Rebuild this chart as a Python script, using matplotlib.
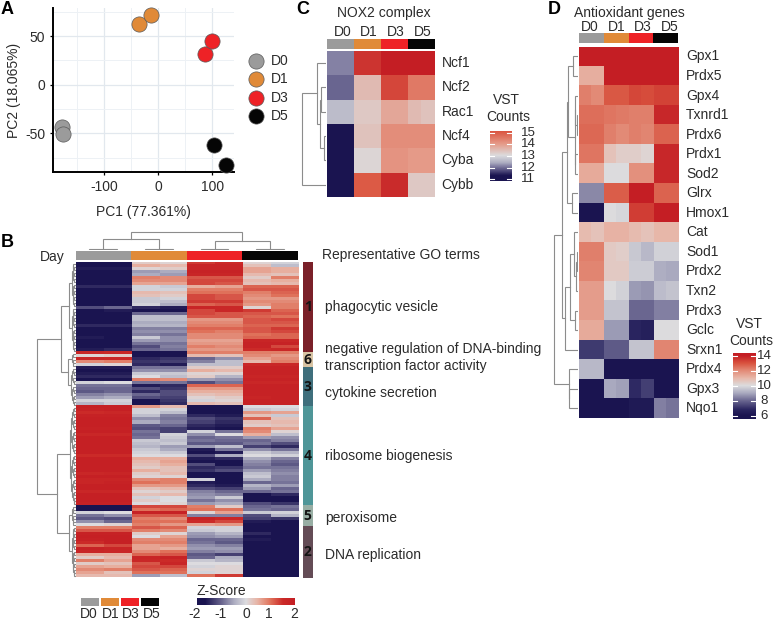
import numpy as np
import matplotlib
matplotlib.use('Agg')
import matplotlib.pyplot as plt
from matplotlib.colors import LinearSegmentedColormap, Normalize

plt.rcParams['font.family'] = ['Liberation Sans', 'DejaVu Sans']
plt.rcParams['font.size'] = 10
plt.rcParams['axes.unicode_minus'] = False

W, H = 773, 620
TEXT = '#2b2b2b'
LINE = '#8c8c8c'

days = ['D0', 'D1', 'D3', 'D5']
day_colors = ['#9b9b9b', '#e08a38', '#ee2226', '#050505']

# Panel A - PCA scores
pc1 = {'D0': [-178, -176], 'D1': [-35, -13], 'D3': [86, 100], 'D5': [103, 125]}
pc2 = {'D0': [-43, -51], 'D1': [63, 72], 'D3': [32, 45], 'D5': [-62, -82]}

# Panel B - z-scores, one list per cluster, 2 replicates per day
cluster1 = [
    [-2, -2, .2, .1, 1.4, 1.5, .1, -.1], [-2, -2, .5, .4, 1.7, 1.7, .3, -.3],
    [-1.6, -1.6, .1, .2, 1.7, 1.7, .6, .5], [-2, -1.8, -.6, -.5, 1.8, 1.8, .6, .5],
    [-2, -1.8, -.5, -.6, 1.7, 1.7, .4, .3], [-2, -2, .9, .8, 1.2, 1.2, .2, .9],
    [-2, -2, .8, .8, 1.3, 1.3, .4, .5], [-2, -2, .6, .6, 1.3, 1.2, .3, .4],
    [-1.5, -1.5, -.1, -.2, .5, .6, 1.1, 1.1], [-2, -2, -.1, -.1, .9, .9, 1.2, 1.2],
    [-2, -2, .4, .3, 1, 1, .9, 1.1], [-2, -2, .3, .2, 1.3, 1.2, .8, 1],
    [-2, -2, -.2, -.1, 1.3, 1.2, .7, .7], [-2, -2, -.2, -.3, 1.4, 1.4, .8, .8],
    [-2, -2, -.1, -.5, 1.1, 1.2, .7, .9], [-1.2, -1.0, -1.5, -1.6, 1.7, 1.6, .1, .9],
    [-1.7, -1.6, -1.8, -1.7, 1.3, 1.6, 1.4, 1.1], [-2, -2, -1, -1, 1.3, 1.2, 1.2, 1.2],
    [-2, -2, -.3, -.3, 1.2, 1.2, 1.1, 1], [-2, -2, -.3, -.3, .7, .7, 1.2, 1.3],
    [-2, -2, -.5, -.5, .8, .8, 1.2, 1.2], [-1.5, -1.5, -.4, -.4, .9, .9, 1.1, 1.1],
    [-2, -2, -.8, -.8, 1.1, 1.1, 1.2, 1.4], [-2, -1.9, -.7, -.7, 1, .9, 1.2, 1.3],
    [-1.9, -2, -.8, -.9, .8, .8, 1, 1.1], [-1.6, -1.7, -.2, -.7, .8, .8, 1.1, 1.1],
    [-1.8, -1.9, -.6, -.7, .6, .6, 1.7, 1.6], [-1.9, -2, -.9, -.9, .7, .7, 1.8, 1.8],
    [-1.9, -1.8, -1.2, -.8, .9, .8, 1.8, 1.3], [-1.6, -1.5, -1, -.9, .7, .7, 1.5, 1.6],
]
cluster6 = [
    [1.7, 1.6, -2, -2, .9, .9, .9, .9], [.1, .2, -2, -2, .4, .3, .8, .7],
    [1.7, 1.6, -1.5, -1.4, -1, -.7, .6, .8], [.8, .9, -1.4, -1.3, -.8, -.3, .4, .9],
    [-.1, .1, -1.5, -1.6, -.3, -.3, 1.6, 1.6],
]
cluster3 = [
    [-1.6, -1.6, -.9, -.9, .2, .2, 1.8, 1.8], [-1.7, -1.7, -.7, -.7, .5, .4, 1.8, 1.8],
    [-1.6, -1.6, -.2, -.2, .1, .1, 1.8, 1.8], [-1.5, -1.5, 0, -.3, .2, -.4, 1.7, 1.7],
    [-1.7, -1.7, .9, .8, -.6, -.7, 1.8, 1.8], [-.1, 0, -.9, -.9, -1.2, -.9, 1.6, 1.6],
    [-.9, -.9, -1.6, -1.5, 1.1, 1.1, 1.8, 1.8], [-1, -1, -1.2, -1.4, .7, .7, 1.8, 1.8],
    [-1.1, -1, -1.5, -1.2, .5, .5, 1.8, 1.8], [-.8, -.7, -1, -1.2, .3, .4, 1.8, 1.8],
    [-.6, -.5, -1.2, -1.3, .1, .2, 1.7, 1.8], [-.1, -.1, -1.7, -1.4, -.1, .1, 1.8, 1.8],
    [-.4, -.2, -1.8, -1.5, .4, .3, 1.8, 1.8],
]
cluster4 = [
    [1.9, 1.9, .7, .4, -2, -2, 0, 0], [1.8, 1.9, -.1, -.1, -1.9, -2, -.2, -.1],
    [1.5, 1.6, -.1, -.3, -1.8, -1.8, .7, .6], [1.8, 1.8, -.3, -.8, -1.5, -1.6, .3, -.2],
    [1.9, 1.9, -.7, -.9, -1.2, -1.4, 1.1, .3], [1.9, 1.9, -.5, -.8, -1.3, -1.5, .3, .4],
    [1.9, 1.9, -1.1, -1, -1.5, -1.6, .2, .3], [1.8, 1.8, -1.2, -1.3, -1.6, -1.7, .9, .6],
    [1.9, 1.9, -.9, -1.3, -.1, -.9, .8, .1], [1.6, 1.6, -1, -.1, -.7, 0, .5, -.3],
    [1.9, 1.9, -.9, -.2, -1, -.9, -.6, -.7], [1.9, 1.9, -.2, -.3, -.9, -1, -1, -.8],
    [1.9, 1.9, -.3, -.2, -1.1, -1.1, -.9, -1.2], [1.9, 1.9, -.4, -.6, -.6, -.3, -1.3, -1.5],
    [1.9, 1.9, -.2, -.5, -1.6, -.9, -.7, -.9], [1.9, 1.9, -.1, -.2, -1.7, -1.6, -.2, -.4],
    [1.5, 1.5, 0, 0, -1.2, -.5, 0, -.1], [1.9, 1.9, .5, .5, -1.6, -1.5, -.5, -.8],
    [1.9, 1.9, .4, .6, -1.7, -1.8, -.7, -1], [1.9, 1.9, .3, .5, -1.2, -1.9, -.8, -1.1],
    [1.9, 1.9, .2, .3, -1.5, -1.4, -.9, -.9], [1.9, 1.9, .5, .3, -1.4, -1.2, -.6, -.8],
    [1.6, 1.7, .2, .4, -1.8, -1.9, -.3, -.7], [1.9, 1.9, .1, .1, -1.7, -1.8, -.2, -.8],
    [1.7, 1.7, .8, .9, -.1, -1.9, -.5, -.8], [1.7, 1.8, 1, .9, -1.6, -1.7, -1, -.9],
    [1.9, 1.9, .7, .7, -1.5, -1.6, -.4, -.6], [1.9, 1.9, .3, .4, -1.2, -1.3, -.6, -1],
    [1.6, 1.6, .1, .2, -.8, -1, -1, -.9], [1.9, 1.9, .3, .4, -.7, -.8, -1.8, -1.5],
    [1.9, 1.9, -.1, 0, -.6, -.2, -1.7, -1.8], [1.9, 1.9, .2, 0, -.9, -.7, -1.7, -1.7],
    [1.8, 1.8, 0, .1, -.6, -.5, -1.2, -1.4],
]
cluster5 = [
    [-2, -1.9, 1.3, 1.3, .9, .2, -1, -.9], [-1.9, -2, 1, 1.1, 1, 1, -.9, -1],
    [-.1, 0, 1.8, 1.8, .1, .6, -.2, -.1], [-.9, -.7, 1.2, 1.2, -.8, -.8, -1.2, -.4],
    [-1.1, -1.2, .9, .8, 1.8, 1.6, -1.3, -1.4], [-.7, -1, 1, 1, 1.5, 1.3, -1.6, -1.7],
    [0, .1, .9, .7, .6, .7, -1.8, -1.9],
]
cluster2 = [
    [.9, .9, 1.2, 1.1, -.1, -.1, -1.9, -1.9], [1.2, 1.2, .9, .8, -.2, -.1, -1.9, -1.8],
    [1.8, 1.8, .2, .1, -.6, -.4, -1.5, -1.8], [1.9, 1.9, 0, .6, -.7, -.6, -1.9, -1.9],
    [1.8, 1.9, .8, .8, -1, -1, -1.6, -1.8], [1.5, 1.9, .9, .9, -.9, -1.1, -1.8, -1.9],
    [1.1, 1.3, .6, .7, -.7, -.8, -1.9, -1.7], [1.8, 1.7, .6, .5, -.6, -.6, -1.9, -1.9],
    [1.7, 1.6, .8, 1, -.8, -.7, -1.8, -1.9], [.5, .5, 1.1, 1.2, -1.1, -1.3, -1.9, -1.9],
    [.2, .4, 1.7, 1.8, -1, -.5, -2, -2], [.9, .6, 1.6, 1.5, -.2, -.4, -2, -1.9],
    [.2, .3, 1.2, 1.7, 0, 0, -2, -2], [.6, .5, 1.3, 1.3, -.1, .1, -2, -2],
    [.8, .9, 1.2, 1.1, .1, .1, -2, -2], [.6, .3, 1, 1, -.1, .1, -2, -2],
    [.4, .4, -.6, -.3, 1, 1.4, -2, -2],
]
cluster_ids = ['1', '6', '3', '4', '5', '2']
cluster_rows = [cluster1, cluster6, cluster3, cluster4, cluster5, cluster2]
cluster_colors = ['#7a2029', '#d8c4a4', '#3f6f7c', '#4f9698', '#98aea4', '#644c56']
go_terms = ['phagocytic vesicle', 'negative regulation of DNA-binding\ntranscription factor activity',
            'cytokine secretion', 'ribosome biogenesis', 'peroxisome', 'DNA replication']

# Panel C - NOX2 complex
nox2_genes = ['Ncf1', 'Ncf2', 'Rac1', 'Ncf4', 'Cyba', 'Cybb']
nox2_vst = [
    [12.1, 12.1, 15.4, 15.4, 15.7, 15.7, 15.7, 15.7],
    [11.9, 11.9, 13.5, 13.5, 15.2, 15.2, 14.5, 14.5],
    [12.6, 12.6, 13.3, 13.3, 13.8, 13.8, 13.5, 13.4],
    [11, 11, 13.4, 13.4, 14.2, 14.2, 14.2, 14.2],
    [11, 11, 13.1, 13.1, 14.1, 14.1, 14.0, 14.0],
    [11, 11, 15.0, 15.0, 15.5, 15.5, 13.3, 13.3],
]
nox2_tree = (24, (9, 0, (6.5, (5, 1, 2), (2.5, 3, 4))), 5)

# Panel D - antioxidant genes
aox_genes = ['Gpx1', 'Prdx5', 'Gpx4', 'Txnrd1', 'Prdx6', 'Prdx1', 'Sod2', 'Glrx', 'Hmox1', 'Cat',
             'Sod1', 'Prdx2', 'Txn2', 'Prdx3', 'Gclc', 'Srxn1', 'Prdx4', 'Gpx3', 'Nqo1']
aox_vst = [
    [14, 14, 14, 14, 14, 14, 14, 14],
    [11.2, 11.2, 14, 14, 14, 14, 14, 14],
    [12.2, 12.0, 12.9, 12.9, 13.2, 13.1, 13.3, 13.3],
    [12.5, 12.5, 12.4, 12.3, 12.2, 12.2, 13.8, 13.8],
    [12.6, 12.6, 12.2, 12.0, 12.2, 12.1, 12.7, 12.7],
    [12.4, 12.4, 10.7, 10.4, 10.4, 10.2, 13.8, 13.8],
    [11.3, 11.3, 10, 10, 11.9, 11.9, 13.8, 13.8],
    [8.5, 8.5, 12.8, 12.8, 14, 14, 12.7, 12.7],
    [6, 6, 10, 9.9, 13.4, 13.4, 14, 14],
    [10.9, 10.7, 11.1, 11.1, 10.9, 10.7, 11, 11],
    [12.2, 12.2, 10.5, 10.4, 9.6, 9.3, 9.8, 9.8],
    [12.1, 12.1, 10.5, 10.5, 9.7, 9.7, 9.1, 9],
    [11.6, 11.6, 10, 9.8, 8.8, 8.7, 9.4, 9.5],
    [11.6, 11.6, 9.5, 9.5, 8, 8, 8.4, 8.4],
    [11.3, 11.3, 8.8, 8.8, 6.8, 6.6, 10, 10],
    [7.2, 7.2, 7.8, 7.8, 9.5, 9.5, 12.1, 12.1],
    [9.3, 9.3, 6, 6, 6, 6, 6, 6],
    [6, 6, 9, 8.9, 6.9, 7.3, 6, 6],
    [6, 6, 6, 6, 6.3, 6.3, 8.4, 8.2],
]
aox_tree = (24,
            (16,
             (11, (10, (4.5, 0, 1), (3, (2.5, 2, (1.2, 3, 4)), (2.5, 5, 6))), (6, 7, 8)),
             (12.5, (8, (4, 9, (2, (1, 10, 11), 12)), (2.5, 13, 14)), 15)),
            (9, 16, (8.5, 17, 18)))

sample_tree = (18, (11, (1.5, 0, 1), (1.5, 2, 3)), (9, (1.5, 4, 5), (1.5, 6, 7)))


def ax_px(x0, y0, x1, y1):
    # axes from pixel box, y measured from the top of the picture
    ax = fig.add_axes([x0 / W, 1 - y1 / H, (x1 - x0) / W, (y1 - y0) / H])
    return ax


def txt(x, y, s, **kw):
    kw.setdefault('color', TEXT)
    kw.setdefault('va', 'center')
    kw.setdefault('fontsize', 10)
    fig.text(x / W, 1 - y / H, s, **kw)


def draw_tree(ax, node, horizontal=True):
    # node is a row index or (height, left, right); returns (position, height)
    if not isinstance(node, tuple):
        return node + 0.5, 0
    h, left, right = node
    p1, h1 = draw_tree(ax, left, horizontal)
    p2, h2 = draw_tree(ax, right, horizontal)
    hs, ps = [h1, h, h, h2], [p1, p1, p2, p2]
    if horizontal:
        ax.plot(hs, ps, color=LINE, lw=0.8, solid_joinstyle='miter')
    else:
        ax.plot(ps, hs, color=LINE, lw=0.8, solid_joinstyle='miter')
    return (p1 + p2) / 2, h


def side_tree(tree, n, x_right, y0, y1):
    top = tree[0] + 1
    ax = ax_px(x_right - top, y0, x_right, y1)
    draw_tree(ax, tree)
    ax.set_xlim(top, 0)
    ax.set_ylim(n, 0)
    ax.axis('off')


def balanced(a, b, h):
    if b - a == 1:
        return a
    m = (a + b) // 2
    return (h, balanced(a, m, h * 0.72), balanced(m, b, h * 0.72))


def day_bar(x0, y0, x1, y1):
    ax = ax_px(x0, y0, x1, y1)
    for i, c in enumerate(day_colors):
        ax.bar(i, 1, width=1, color=c)
    ax.set_xlim(-0.5, 3.5)
    ax.set_ylim(0, 1)
    ax.axis('off')


def heat(data, cmap, norm, x0, y0, x1, y1):
    ax = ax_px(x0, y0, x1, y1)
    ax.imshow(np.array(data), cmap=cmap, norm=norm, aspect='auto', interpolation='nearest')
    ax.axis('off')


def vert_bar(cmap, norm, ticks, lo, hi, x0, y0, x1, y1, label_x):
    ax = ax_px(x0, y0, x1, y1)
    vals = np.linspace(hi, lo, 120).reshape(-1, 1)
    ax.imshow(vals, cmap=cmap, norm=norm, aspect='auto', extent=[0, 1, lo, hi])
    for t in ticks:
        ax.plot([0, 0.2], [t, t], color='white', lw=0.8)
        ax.plot([0.8, 1], [t, t], color='white', lw=0.8)
        y = y1 - (t - lo) / (hi - lo) * (y1 - y0)
        txt(label_x, y, str(t), ha='center', fontsize=9.5)
    ax.set_xlim(0, 1)
    ax.set_ylim(lo, hi)
    ax.axis('off')


fig = plt.figure(figsize=(W / 100, H / 100), dpi=100, facecolor='white')

# ---- A: PCA ----
ax = ax_px(53, 8, 234, 172)
for d, c in zip(days, day_colors):
    ax.scatter(pc1[d], pc2[d], s=120, color=c, edgecolor='#5a5a5a', linewidth=0.5, zorder=3,
               label=d, clip_on=False)
ax.set_xlim(-195, 140)
ax.set_ylim(-89.7, 79)
ax.set_xticks([-100, 0, 100])
ax.set_yticks([-50, 0, 50])
ax.set_xticks([-150, -50, 50], minor=True)
ax.set_yticks([-75, -25, 25, 75], minor=True)
ax.grid(True, which='major', color='#e2e8ee', lw=0.9)
ax.grid(True, which='minor', color='#edf1f5', lw=0.7)
ax.set_axisbelow(True)
ax.tick_params(which='minor', length=0)
ax.tick_params(which='major', length=2.5, width=0.9, labelsize=10, labelcolor=TEXT, pad=3)
for s in ['top', 'right']:
    ax.spines[s].set_visible(False)
for s in ['left', 'bottom']:
    ax.spines[s].set_linewidth(1.4)
ax.set_xlabel('PC1 (77.361%)', fontsize=10, color=TEXT, labelpad=8)
ax.set_ylabel('PC2 (18.065%)', fontsize=10, color=TEXT, labelpad=3)
ax.legend(loc='center left', bbox_to_anchor=(1.005, 0.51), frameon=False, fontsize=10,
          handletextpad=0.1, labelspacing=0.32, borderpad=0, labelcolor=TEXT)

# ---- B: main heatmap ----
z_cmap = LinearSegmentedColormap.from_list('z', [
    (0, '#1a1450'), (0.08, '#1a1450'), (0.25, '#6a668f'), (0.38, '#aeaec2'), (0.5, '#dcdce0'),
    (0.62, '#e8b3a4'), (0.75, '#e0735c'), (0.88, '#cb2a28'), (1, '#c41e24')])
z_norm = Normalize(-2, 2)
z_all = [row for rows in cluster_rows for row in rows]
bx0, bx1, by0, by1 = 75.5, 298, 262, 577.5
heat(z_all, z_cmap, z_norm, bx0, by0, bx1, by1)
day_bar(bx0, 251, bx1, 260)
txt(40, 257, 'Day')

ax = ax_px(bx0, 231, bx1, 250)
draw_tree(ax, sample_tree, horizontal=False)
ax.set_xlim(0, 8)
ax.set_ylim(0, 19)
ax.axis('off')

bounds = np.cumsum([0] + [len(r) for r in cluster_rows])
go_tree = (39,
           (14.5,
            (7, balanced(0, 15, 4), balanced(15, 30, 4)),
            (7.5, balanced(30, 35, 4), balanced(35, 48, 5))),
           (18.5,
            balanced(48, 81, 6),
            (6.5, balanced(81, 88, 4), balanced(88, 105, 4))))
side_tree(go_tree, len(z_all), bx0, by0, by1)

# cluster strip
ax = ax_px(302.7, by0, 312.7, by1)
for i, c in enumerate(cluster_colors):
    ax.barh((bounds[i] + bounds[i + 1]) / 2, 1, height=bounds[i + 1] - bounds[i], color=c)
    ax.text(0.5, (bounds[i] + bounds[i + 1]) / 2, cluster_ids[i], ha='center', va='center',
            fontsize=10, fontweight='bold', color='#141414', family=['Open Sans', 'DejaVu Sans'])
ax.set_xlim(0, 1)
ax.set_ylim(bounds[-1], 0)
ax.axis('off')

txt(322, 255, 'Representative GO terms')
for y, s in zip([307, 357.5, 393, 456, 518, 555], go_terms):
    txt(325, y, s, linespacing=1.2)

# day legend and z-score bar
ax = ax_px(80, 598, 160, 606)
for i, c in enumerate(day_colors):
    ax.bar(i, 1, width=0.94, color=c)
ax.set_xlim(-0.5, 3.5)
ax.set_ylim(0, 1)
ax.axis('off')
for x, d in zip([89, 111, 131, 152], days):
    txt(x, 613.5, d, ha='center')

ax = ax_px(197, 598, 295, 605.5)
ax.imshow(np.linspace(-2, 2, 200).reshape(1, -1), cmap=z_cmap, norm=z_norm, aspect='auto',
          extent=[-2, 2, 0, 1])
ax.axis('off')
txt(221.5, 591, 'Z-Score', ha='center')
for t, x in zip([-2, -1, 0, 1, 2], [195, 221, 246, 269, 294]):
    txt(x, 613.5, str(t), ha='center')

# ---- C: NOX2 ----
c_cmap = LinearSegmentedColormap.from_list('c', [
    (0, '#1a1450'), (0.06, '#1a1450'), (0.2, '#77739b'), (0.28, '#aeaec2'), (0.4, '#dcdcde'),
    (0.6, '#e59a88'), (0.8, '#dc5a45'), (0.93, '#c41f25'), (1, '#c41e24')])
c_norm = Normalize(11, 16)
cx0, cx1, cy0, cy1 = 327.3, 434.7, 51, 196.7
heat(nox2_vst, c_cmap, c_norm, cx0, cy0, cx1, cy1)
day_bar(cx0, 39.3, cx1, 48.7)
txt(383.7, 13, 'NOX2 complex', ha='center')
for x, d in zip([342.7, 368.7, 396, 422.7], days):
    txt(x, 32, d, ha='center')
side_tree(nox2_tree, len(nox2_genes), cx0 - 1, cy0, cy1)
for i, g in enumerate(nox2_genes):
    txt(441.7, cy0 + (i + 0.5) * (cy1 - cy0) / len(nox2_genes), g)
txt(506.7, 100, 'VST', ha='center')
txt(508, 117, 'Counts', ha='center')
vert_bar(c_cmap, c_norm, [15, 14, 13, 12, 11], 10.85, 15.15, 490, 131, 511.7, 181, 528)

# ---- D: antioxidant ----
d_cmap = LinearSegmentedColormap.from_list('d', [
    (0, '#1a1450'), (0.1, '#2a2560'), (0.25, '#6a6690'), (0.375, '#a9a9bf'), (0.5, '#dcdcde'),
    (0.625, '#e8b8aa'), (0.75, '#e38c78'), (0.875, '#d9533f'), (1, '#c41e24')])
d_norm = Normalize(6, 14)
dx0, dx1, dy0, dy1 = 578.7, 678.3, 46.7, 418
heat(aox_vst, d_cmap, d_norm, dx0, dy0, dx1, dy1)
day_bar(dx0, 33.3, dx1, 43.3)
txt(629, 13, 'Antioxidant genes', ha='center')
for x, d in zip([590, 616.7, 643, 670], days):
    txt(x, 27, d, ha='center')
side_tree(aox_tree, len(aox_genes), dx0 - 1, dy0, dy1)
for i, g in enumerate(aox_genes):
    txt(686, dy0 + (i + 0.5) * (dy1 - dy0) / len(aox_genes), g)
txt(749, 324, 'VST', ha='center')
txt(751, 341, 'Counts', ha='center')
vert_bar(d_cmap, d_norm, [14, 12, 10, 8, 6], 5.6, 14.3, 732.7, 353.3, 755.7, 419, 764)

# panel letters
for x, y, s in [(1, 9, 'A'), (1, 243, 'B'), (296, 9, 'C'), (548, 9, 'D')]:
    txt(x, y, s, fontsize=13, fontweight='bold', color='black')

fig.savefig('out.png', dpi=100)
